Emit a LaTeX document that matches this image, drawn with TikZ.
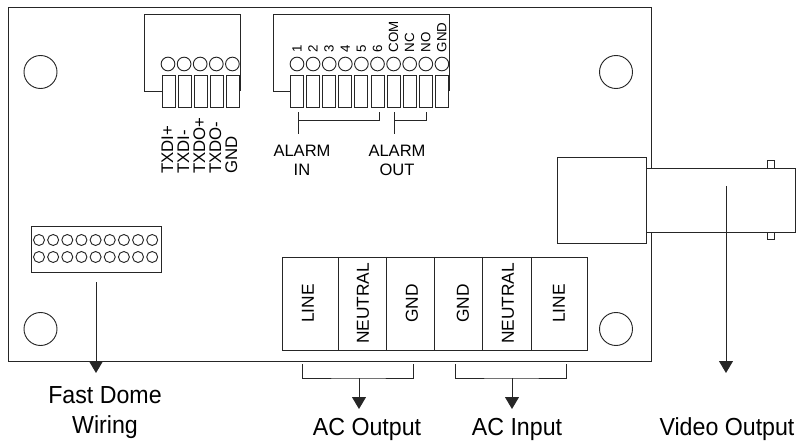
\documentclass[tikz,border=0pt]{standalone}
\usepackage{fontspec}
\setmainfont{Liberation Sans}
\usetikzlibrary{arrows.meta}

\tikzset{
	line/.style={draw=black!85, line width=.7pt},
	hole/.style={line, circle, minimum size=24.75pt, inner sep=0pt},
	pinhole/.style={line, circle, minimum size=10.25pt, inner sep=0pt},
	wirehole/.style={line, circle, minimum size=8.25pt, inner sep=0pt},
	terminal/.style={line, anchor=north west, minimum width=9.75pt, minimum height=24pt, inner sep=0pt},
	pinlabel/.style={rotate=90, anchor=mid west, inner sep=0pt, font=\fontsize{10pt}{10pt}\selectfont},
	wirelabel/.style={rotate=90, anchor=mid west, inner sep=0pt, font=\fontsize{12.6pt}{12.6pt}\selectfont},
	cell/.style={rotate=90, inner sep=0pt, font=\fontsize{13pt}{13pt}\selectfont},
	alarm/.style={inner sep=0pt, align=center, font=\fontsize{12.4pt}{14.2pt}\selectfont},
	caption/.style={inner sep=0pt, align=center, xscale=.94, transform shape, font=\fontsize{18.5pt}{22.5pt}\selectfont},
	arrow/.style={line, -{Triangle[width=10.5pt,length=9pt]}}
}

\begin{document}
\begin{tikzpicture}[x=.75pt, y=-.75pt]
	\useasboundingbox (0,0) rectangle (800,442);

	% board
	\draw[line] (651,168) -- (651,7.5) -- (8.5,7.5) -- (8.5,361) -- (651,361) -- (651,232);
	\node[hole] (holeA) at (40.5,72) {};
	\node[hole] (holeB) at (616,72) {};
	\node[hole] (holeC) at (40.5,329) {};
	\node[hole] (holeD) at (616,329) {};

	% serial connector
	\draw[line] (162,91) -- (144,91) -- (144,14.5) -- (240,14.5) -- (240,91);
	\foreach \i/\lab in {0/TXDI+,1/TXDI-,2/TXDO+,3/TXDO-,4/GND}{
		\node[terminal] (txd\i) at (161.5+16*\i,75) {};
		\node[pinhole] (txdhole\i) at (168+16.1*\i,64) {};
		\node[wirelabel] (txdlabel\i) at (169.5+16*\i,174) {\lab};
	}

	% alarm connector
	\draw[line] (290,91) -- (273,91) -- (273,14.5) -- (449,14.5) -- (449,91);
	\foreach \i/\lab in {0/1,1/2,2/3,3/4,4/5,5/6,6/COM,7/NC,8/NO,9/GND}{
		\node[terminal] (al\i) at (290+16.1*\i,75) {};
		\node[pinhole] (alhole\i) at (297+16.1*\i,64) {};
		\node[pinlabel] (allabel\i) at (298+16.1*\i,52.5) {\lab};
	}
	\coordinate (inL) at (298,112);
	\coordinate (inR) at (379,112);
	\coordinate (inD) at (298,134);
	\coordinate (outL) at (394,112);
	\coordinate (outR) at (426,112);
	\coordinate (outD) at (394,134);
	\draw[line] (inD) -- (inL);
	\draw[line] (inL) ++(0,8) -| (inR);
	\draw[line] (outD) -- (outL);
	\draw[line] (outL) ++(0,8) -| (outR);
	\node[alarm] (alarmin) at (302,160.5) {ALARM\\IN};
	\node[alarm] (alarmout) at (397,160.5) {ALARM\\OUT};

	% fast dome header
	\node[line, anchor=north west, minimum width=97.5pt, minimum height=34.5pt, inner sep=0pt] (header) at (31,226) {};
	\foreach \i in {0,...,8}{
		\node[wirehole] (rowa\i) at (39+14.15*\i,240) {};
		\node[wirehole] (rowb\i) at (39+14.15*\i,257) {};
	}
	\coordinate (domeS) at (96,282);
	\coordinate (domeT) at (96,373);
	\draw[arrow] (domeS) -- (domeT);
	\node[caption] (dome) at (105,413) {Fast Dome\\Wiring};

	% ac terminal block
	\draw[line] (282,257) rectangle (587,350);
	\foreach \i/\x in {0/338,1/386,2/434,3/482,4/531}{
		\coordinate (acT\i) at (\x,257);
		\coordinate (acB\i) at (\x,350);
		\draw[line] (acT\i) -- (acB\i);
	}
	\foreach \i/\x/\lab in {0/308/LINE,1/363/NEUTRAL,2/412/GND,3/463/GND,4/508/NEUTRAL,5/559/LINE}{
		\node[cell] (aclabel\i) at (\x,303.5) {\lab};
	}
	\coordinate (acoutL) at (302,364);
	\coordinate (acoutR) at (413,364);
	\coordinate (acoutS) at (359,378);
	\coordinate (acoutT) at (359,409);
	\coordinate (acinL) at (455,364);
	\coordinate (acinR) at (566,364);
	\coordinate (acinS) at (512,378);
	\coordinate (acinT) at (512,409);
	\draw[line] (acoutL) |- (acoutS) -| (acoutR);
	\draw[line] (acinL) |- (acinS) -| (acinR);
	\draw[arrow] (acoutS) -- (acoutT);
	\draw[arrow] (acinS) -- (acinT);
	\node[caption] (acout) at (367,429) {AC Output};
	\node[caption] (acin) at (517,429) {AC Input};

	% video connector
	\draw[line] (557,157) rectangle (646,243);
	\draw[line] (646,168) rectangle (795,232);
	\draw[line] (767,168) rectangle (774,160.5);
	\draw[line] (767,232) rectangle (774,239.5);
	\coordinate (videoS) at (726,186);
	\coordinate (videoT) at (726,373);
	\draw[arrow] (videoS) -- (videoT);
	\node[caption] (video) at (727,429) {Video Output};
\end{tikzpicture}
\end{document}
